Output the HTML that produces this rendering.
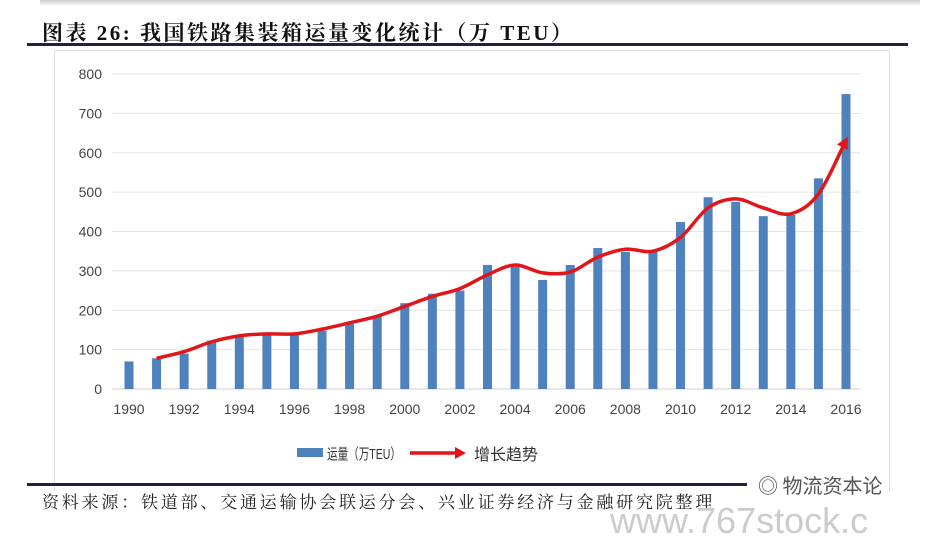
<!DOCTYPE html>
<html><head><meta charset="utf-8"><style>
body{margin:0;width:936px;height:524px;background:#fff;overflow:hidden;position:relative;font-family:"Liberation Sans","Noto Sans CJK SC",sans-serif}
.abs{position:absolute}
</style></head><body>
<div class="abs" style="left:40px;top:0;width:880px;height:6px;background:linear-gradient(#ccc,#fff)"></div>
<div class="abs" style="left:42px;top:17px;font:bold 21px 'Liberation Serif','Noto Serif CJK SC',serif;letter-spacing:2.5px;color:#111;white-space:nowrap">图表 26:  我国铁路集装箱运量变化统计（万 TEU）</div>
<div class="abs" style="left:27px;top:43px;width:881px;height:3px;background:#1f2340"></div>
<div class="abs" style="left:54px;top:50px;width:834px;height:440px;border:1px solid #ddd;border-bottom:none"></div>
<svg class="abs" style="left:0;top:0" width="936" height="524" id="svg"></svg>
<div class="abs" style="left:27px;top:483px;width:720px;height:3px;background:#1f2340"></div>
<div class="abs" style="left:42px;top:488px;font:17px 'Liberation Serif','Noto Serif CJK SC',serif;letter-spacing:2.8px;color:#222;white-space:nowrap">资料来源：铁道部、交通运输协会联运分会、兴业证券经济与金融研究院整理</div>
<div class="abs" style="left:758px;top:470px;font:20px 'Noto Sans CJK SC',sans-serif;color:#555;white-space:nowrap">◎ 物流资本论</div>
<div class="abs" style="left:610px;top:500px;font:36px 'Liberation Sans',sans-serif;color:#ccc;white-space:nowrap">www.767stock.c</div>
<script>
const years=[1990,1991,1992,1993,1994,1995,1996,1997,1998,1999,2000,2001,2002,2003,2004,2005,2006,2007,2008,2009,2010,2011,2012,2013,2014,2015,2016];
const volume=[70,78,90,123,133,138,138,148,165,185,218,242,250,315,310,277,315,358,348,348,424,487,475,439,442,535,749];
const trendYears=[1991,1992,1993,1994,1995,1996,1997,1998,1999,2000,2001,2002,2003,2004,2005,2006,2007,2008,2009,2010,2011,2012,2013,2014,2015,2016];
const trend=[78,95,120,135,140,140,152,168,185,210,235,255,290,315,295,297,335,355,350,385,460,483,460,445,495,632];
const yTicks=[0,100,200,300,400,500,600,700,800];
const xLabels=[1990,1992,1994,1996,1998,2000,2002,2004,2006,2008,2010,2012,2014,2016];
const NS='http://www.w3.org/2000/svg',svg=document.getElementById('svg');
const X=y=>129+(y-1990)*(846-129)/26;
const Y=v=>389-v*(389-74)/800;
function mk(t,a,p){const e=document.createElementNS(NS,t);for(const k in a)e.setAttribute(k,a[k]);(p||svg).appendChild(e);return e;}
yTicks.forEach(v=>{
 const g=mk('line',{x1:112,x2:860,y1:Y(v),y2:Y(v),stroke:v?'#e4e4e4':'#d0d0d0','stroke-width':1});
 
 
 const t=mk('text',{x:102,y:Y(v)+5,'text-anchor':'end','font-size':14,fill:'#444'});t.textContent=v;
 
 
});
xLabels.forEach(y=>{
 const t=mk('text',{x:X(y),y:414,'text-anchor':'middle','font-size':14,fill:'#444'});t.textContent=y;
 
 
});
years.forEach((y,i)=>{
 const r=mk('rect',{x:X(y)-4.5,y:Y(volume[i]),width:9,height:Y(0)-Y(volume[i]),fill:'#4f81bd'});
 
 
});
const pts=trendYears.map((y,i)=>[X(y),Y(trend[i])]);
let d='M'+pts[0][0]+','+pts[0][1];
for(let i=0;i<pts.length-1;i++){
 const p0=pts[Math.max(0,i-1)],p1=pts[i],p2=pts[i+1],p3=pts[Math.min(pts.length-1,i+2)];
 const k=1/6;
 d+=` C${p1[0]+(p2[0]-p0[0])*k},${p1[1]+(p2[1]-p0[1])*k} ${p2[0]-(p3[0]-p1[0])*k},${p2[1]-(p3[1]-p1[1])*k} ${p2[0]},${p2[1]}`;
}
const l=mk('path',{d:d,fill:'none',stroke:'#e0161b','stroke-width':3.5,'stroke-linejoin':'round'});


const n=pts.length,a=pts[n-1],b=pts[n-2],ang=Math.atan2(a[1]-b[1],a[0]-b[0]);
const ah=mk('polygon',{points:`${a[0]+4*Math.cos(ang)},${a[1]+4*Math.sin(ang)} ${a[0]-8*Math.cos(ang)+6*Math.sin(ang)},${a[1]-8*Math.sin(ang)-6*Math.cos(ang)} ${a[0]-8*Math.cos(ang)-6*Math.sin(ang)},${a[1]-8*Math.sin(ang)+6*Math.cos(ang)}`,fill:'#e0161b'});


const lg=mk('g',{});


mk('rect',{x:297,y:448,width:26,height:9,fill:'#4f81bd'},lg);
const t1=mk('text',{x:327,y:459,'font-size':15,fill:'#333',textLength:74,lengthAdjust:'spacingAndGlyphs'},lg);t1.textContent='运量（万TEU）';


mk('line',{x1:410,x2:458,y1:453,y2:453,stroke:'#e0161b','stroke-width':3.5},lg);
mk('polygon',{points:'466,453 455,447 455,459',fill:'#e0161b'},lg);
const t2=mk('text',{x:474,y:460,'font-size':16,fill:'#333'},lg);t2.textContent='增长趋势';


</script>
</body></html>
